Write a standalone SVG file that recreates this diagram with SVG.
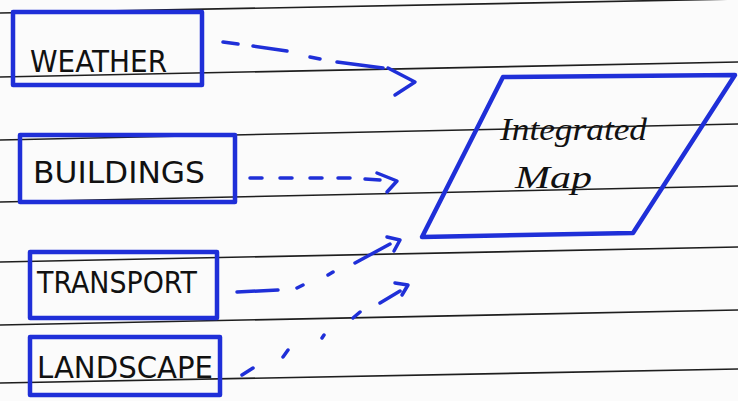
<svg xmlns="http://www.w3.org/2000/svg" width="738" height="401" viewBox="0 0 738 401">
  <style>
    .rule { stroke: #1e1e1e; stroke-width: 1.6; fill: none; }
    .box { fill: none; stroke: #1f2fd8; stroke-width: 4.5; stroke-linejoin: round; }
    .lbl { font-family: "DejaVu Sans", "Liberation Sans", sans-serif; font-size: 30px; fill: #111; }
    .hand { font-family: "Liberation Serif", serif; font-style: italic; font-size: 32px; fill: #111; }
    .dash { stroke: #1f2fd8; stroke-width: 3.5; stroke-linecap: round; fill: none; }
    .head { stroke: #1f2fd8; stroke-width: 3.5; stroke-linecap: round; stroke-linejoin: round; fill: none; }
  </style>
  <rect x="0" y="0" width="738" height="401" fill="#fbfbfb"/>
  <g id="rules">
    <line class="rule" x1="0" y1="13" x2="738" y2="-1"/>
    <line class="rule" x1="0" y1="77" x2="738" y2="62"/>
    <line class="rule" x1="0" y1="140" x2="738" y2="124"/>
    <line class="rule" x1="0" y1="202" x2="738" y2="186"/>
    <line class="rule" x1="0" y1="262" x2="738" y2="247"/>
    <line class="rule" x1="0" y1="325" x2="738" y2="310"/>
    <line class="rule" x1="0" y1="383" x2="738" y2="369"/>
  </g>
  <g id="weather">
    <rect class="box" x="13" y="12" width="189" height="73"/>
    <text class="lbl" x="30" y="72" textLength="137" lengthAdjust="spacingAndGlyphs">WEATHER</text>
  </g>
  <g id="buildings">
    <rect class="box" x="20" y="135" width="215" height="67"/>
    <text class="lbl" x="33" y="183" textLength="172" lengthAdjust="spacingAndGlyphs">BUILDINGS</text>
  </g>
  <g id="transport">
    <rect class="box" x="30" y="252" width="187" height="66"/>
    <text class="lbl" x="37" y="293" textLength="160" lengthAdjust="spacingAndGlyphs">TRANSPORT</text>
  </g>
  <g id="landscape">
    <rect class="box" x="30" y="337" width="190" height="58"/>
    <text class="lbl" x="37" y="378" textLength="176" lengthAdjust="spacingAndGlyphs">LANDSCAPE</text>
  </g>
  <g id="integrated-map">
    <polygon class="box" points="503,77 735,75 633,233 422,237"/>
    <text class="hand" x="500" y="140" textLength="147" lengthAdjust="spacingAndGlyphs">Integrated</text>
    <text class="hand" x="515" y="188" textLength="77" lengthAdjust="spacingAndGlyphs">Map</text>
  </g>
  <g id="connectors">
    <path class="dash" d="M223,42 L238,44 M253,46 L287,51 M310,57 L320,59 M337,62 L383,68"/>
    <polyline class="head" points="388,68 415,82 395,95"/>
    <path class="dash" d="M250,178 L262,178 M280,178 L292,178 M310,178 L322,178 M338,178 L350,178 M365,179 L380,180"/>
    <polyline class="head" points="377,173 397,181 387,192"/>
    <path class="dash" d="M237,292 L278,290 M297,288 L303,285 M328,275 L333,272 M355,263 L390,244"/>
    <polyline class="head" points="387,237 400,240 394,251"/>
    <path class="dash" d="M242,375 L253,368 M283,357 L288,350 M322,338 L324,335 M353,318 L360,312 M380,303 L400,291"/>
    <polyline class="head" points="395,283 408,285 402,295"/>
  </g>
</svg>
